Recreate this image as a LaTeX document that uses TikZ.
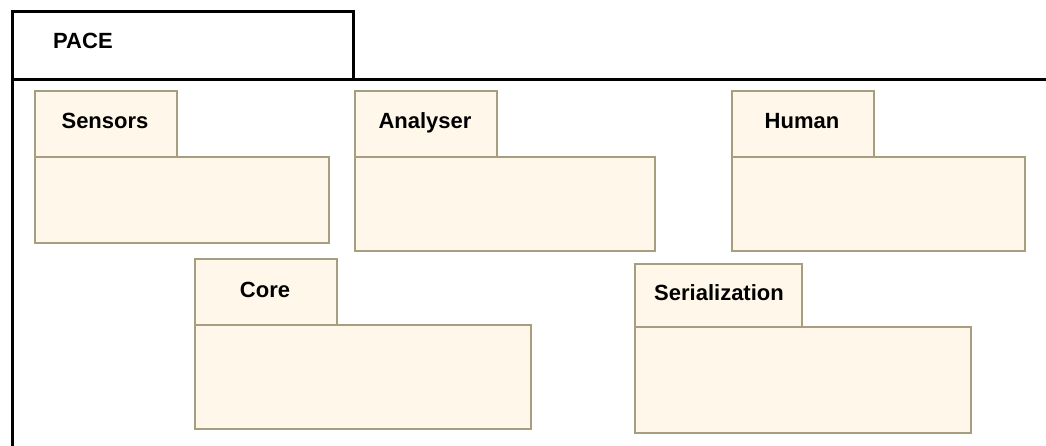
\documentclass[tikz,border=0pt]{standalone}
\usepackage{fontspec}
\setmainfont{Liberation Sans}
\definecolor{pkgfill}{HTML}{FFF8EA}
\definecolor{pkgline}{HTML}{A69E7E}
\begin{document}
\begin{tikzpicture}[x=1pt,y=-1pt,
  outerbox/.style={draw=black,line width=3pt,fill=white,rectangle,inner sep=0pt,anchor=north west},
  pkgbody/.style={draw=pkgline,fill=pkgfill,line width=1.6pt,rectangle,inner sep=0pt,anchor=north west},
  pkgtab/.style={draw=pkgline,fill=pkgfill,line width=1.6pt,rectangle,inner sep=0pt,anchor=north west,minimum height=66pt},
  pkglabel/.style={font=\bfseries\fontsize{22}{26}\selectfont,text=black,inner sep=0pt,anchor=base}]
\useasboundingbox (0,0) rectangle (1046,446);
\clip (0,0) rectangle (1046,446);
% outer package
\node[outerbox,minimum width=1059pt,minimum height=368pt] (pacebody) at (11,78) {};
\node[outerbox,minimum width=341pt,minimum height=68pt] (pacetab) at (11,10) {};
\node[pkglabel,anchor=base west] (pacelbl) at (53,49) {PACE};
% Sensors
\node[pkgbody,minimum width=294pt,minimum height=86pt] (sensorsbody) at (34,156) {};
\node[pkgtab,minimum width=142pt] (sensorstab) at (34,90) {};
\node[pkglabel] (sensorslbl) at (105,129) {Sensors};
% Analyser
\node[pkgbody,minimum width=300pt,minimum height=94pt] (analyserbody) at (354,156) {};
\node[pkgtab,minimum width=142pt] (analysertab) at (354,90) {};
\node[pkglabel] (analyserlbl) at (425,129) {Analyser};
% Human
\node[pkgbody,minimum width=293pt,minimum height=94pt] (humanbody) at (731,156) {};
\node[pkgtab,minimum width=142pt] (humantab) at (731,90) {};
\node[pkglabel] (humanlbl) at (802,129) {Human};
% Core
\node[pkgbody,minimum width=336pt,minimum height=104pt] (corebody) at (194,324) {};
\node[pkgtab,minimum width=142pt] (coretab) at (194,258) {};
\node[pkglabel] (corelbl) at (265,298) {Core};
% Serialization
\node[pkgbody,minimum width=336pt,minimum height=106pt] (serialbody) at (634,326) {};
\node[pkgtab,minimum width=167pt,minimum height=63pt] (serialtab) at (634,263) {};
\node[pkglabel] (seriallbl) at (719,300) {Serialization};
\end{tikzpicture}
\end{document}
